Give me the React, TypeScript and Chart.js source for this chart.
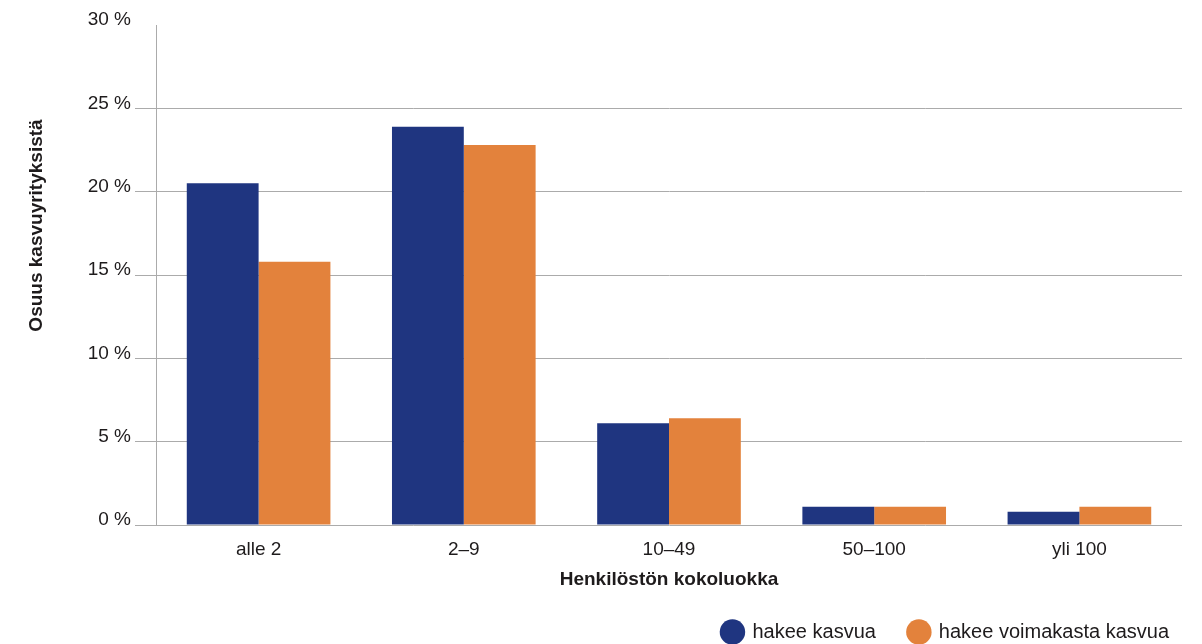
import React, { useEffect, useRef } from 'react';
import { Chart, registerables } from 'chart.js';

Chart.register(...registerables);

const categories = ['alle 2', '2–9', '10–49', '50–100', 'yli 100'];
const seriesNames = ['hakee kasvua', 'hakee voimakasta kasvua'];
const hakeeKasvua = [20.5, 23.9, 6.1, 1.1, 0.8];
const hakeeVoimakastaKasvua = [15.8, 22.8, 6.4, 1.1, 1.1];
const yMin = 0;
const yMax = 30;
const yStep = 5;
const yAxisTitle = 'Osuus kasvuyrityksistä';
const xAxisTitle = 'Henkilöstön kokoluokka';

const BLUE = '#1f3580';
const ORANGE = '#e3823c';
const GRID = '#ababab';
const TEXT = '#1e1b1c';
const FONT = '"Liberation Sans", Arial, Helvetica, sans-serif';

const yTitlePlugin = {
  id: 'yTitleCustom',
  afterDraw(chart: any) {
    const { ctx, chartArea } = chart;
    ctx.save();
    ctx.translate(36.5, chartArea.top + chartArea.height * 0.401);
    ctx.rotate(-Math.PI / 2);
    ctx.font = `bold 19px ${FONT}`;
    ctx.fillStyle = TEXT;
    ctx.textAlign = 'center';
    ctx.textBaseline = 'middle';
    ctx.fillText(yAxisTitle, 0, 0);
    ctx.restore();
  },
};

export default function App() {
  const canvasRef = useRef<HTMLCanvasElement | null>(null);

  useEffect(() => {
    document.body.style.margin = '0';
    const canvas = canvasRef.current;
    if (!canvas) return;
    const gridColor = (c: any) =>
      c.tick && c.tick.value === yMax ? 'rgba(0,0,0,0)' : GRID;
    const chart = new Chart(canvas, {
      type: 'bar',
      data: {
        labels: categories,
        datasets: [
          {
            label: seriesNames[0],
            data: hakeeKasvua,
            backgroundColor: BLUE,
            borderWidth: 0,
            categoryPercentage: 0.7,
            barPercentage: 1.0,
          },
          {
            label: seriesNames[1],
            data: hakeeVoimakastaKasvua,
            backgroundColor: ORANGE,
            borderWidth: 0,
            categoryPercentage: 0.7,
            barPercentage: 1.0,
          },
        ],
      },
      options: {
        responsive: false,
        animation: false,
        devicePixelRatio: 1,
        layout: { padding: { left: 0, right: 0, top: 25, bottom: 0 } },
        plugins: {
          tooltip: { enabled: false },
          legend: {
            position: 'bottom',
            align: 'end',
            labels: {
              usePointStyle: true,
              pointStyle: 'circle',
              boxHeight: 18,
              padding: 33,
              color: TEXT,
              font: { family: FONT, size: 20 },
            },
          },
        },
        scales: {
          x: {
            grid: { display: false, drawTicks: false },
            border: { display: false },
            ticks: {
              color: TEXT,
              font: { family: FONT, size: 19 },
              padding: 13,
              maxRotation: 0,
            },
            title: {
              display: true,
              text: xAxisTitle,
              color: TEXT,
              font: { family: FONT, size: 19, weight: 'bold' },
              padding: { top: 0, bottom: -2 },
            },
            afterFit: (s: any) => {
              s.height = 64;
            },
          },
          y: {
            min: yMin,
            max: yMax,
            ticks: {
              stepSize: yStep,
              color: TEXT,
              font: { family: FONT, size: 19 },
              padding: 4,
              labelOffset: -5,
              callback: (v: any) => `${v} %`,
            },
            grid: {
              color: gridColor,
              tickColor: gridColor,
              tickLength: 21,
              drawTicks: true,
              lineWidth: 1,
            },
            border: { display: true, color: GRID, width: 1 },
            afterFit: (s: any) => {
              s.width = 156;
            },
          },
          yRight: {
            type: 'linear',
            position: 'right',
            grid: { display: false, drawTicks: false },
            border: { display: false },
            ticks: { display: false },
            afterFit: (s: any) => {
              s.width = 20;
            },
          },
        },
      },
      plugins: [yTitlePlugin],
    } as any);
    return () => chart.destroy();
  }, []);

  return (
    <div style={{ width: 1202, height: 644, overflow: 'hidden', background: '#ffffff' }}>
      <canvas ref={canvasRef} width={1202} height={652} style={{ width: 1202, height: 652, display: 'block' }} />
    </div>
  );
}
